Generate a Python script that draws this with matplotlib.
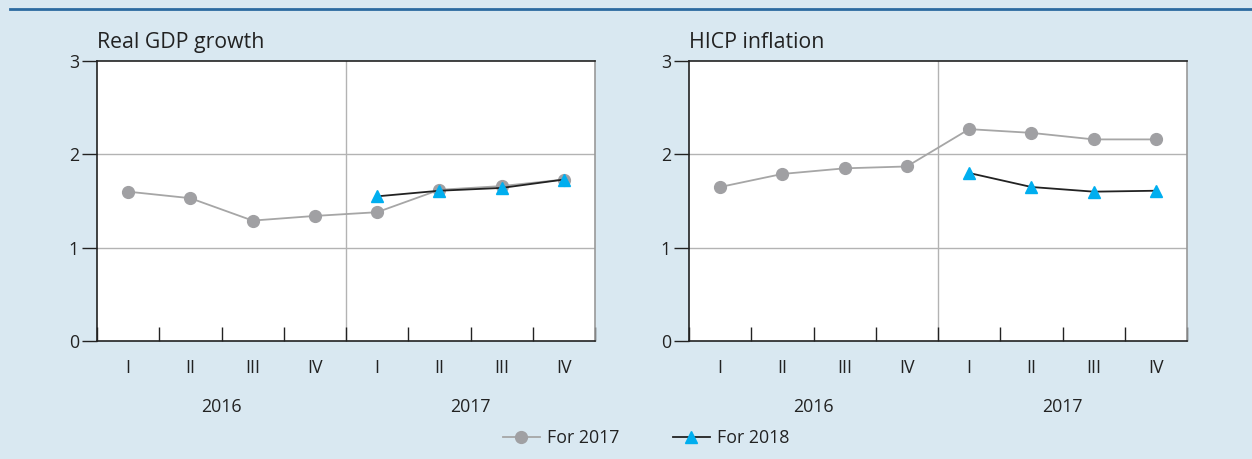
import numpy as np
import matplotlib.pyplot as plt
from matplotlib.lines import Line2D
import matplotlib.transforms as mtransforms

plt.rcParams['font.family'] = ['Open Sans', 'DejaVu Sans']

# =========================
# DATA
# =========================
quarters = ["I", "II", "III", "IV", "I", "II", "III", "IV"]
years = ["2016", "2017"]

gdp_2017 = [1.60, 1.53, 1.29, 1.34, 1.38, 1.62, 1.66, 1.73]
gdp_2018 = [np.nan, np.nan, np.nan, np.nan, 1.55, 1.61, 1.64, 1.73]

hicp_2017 = [1.65, 1.79, 1.85, 1.87, 2.27, 2.23, 2.16, 2.16]
hicp_2018 = [np.nan, np.nan, np.nan, np.nan, 1.80, 1.65, 1.60, 1.61]

titles = ["Real GDP growth", "HICP inflation"]

# =========================
# STYLE
# =========================
bg = "#d9e8f1"
grey_line = "#a6a6a6"
grey_mark = "#a0a0a3"
blue = "#00aeef"
dark = "#222222"
grid_c = "#b3b3b3"
fs = 12.8

fig = plt.figure(figsize=(12.52, 4.59), dpi=100, facecolor=bg)

# top rule
fig.add_artist(Line2D([10 / 1252, 1], [1 - 9 / 459, 1 - 9 / 459],
                      color="#2c6aa0", lw=2, transform=fig.transFigure))

x = np.arange(len(quarters))
lefts = [97 / 1252, 689 / 1252]
series = [(gdp_2017, gdp_2018), (hicp_2017, hicp_2018)]

for left, title, (s17, s18) in zip(lefts, titles, series):
    ax = fig.add_axes([left, 118 / 459, 498 / 1252, 280 / 459])
    ax.set_facecolor("white")
    ax.set_xlim(-0.5, 7.5)
    ax.set_ylim(0, 3)

    # grid
    for yv in [1, 2]:
        ax.axhline(yv, color=grid_c, lw=1, zorder=1)
    ax.axvline(3.5, color=grid_c, lw=1, zorder=1)

    ax.plot(x, s17, color=grey_line, lw=1.3, marker="o", ms=8.5,
            mfc=grey_mark, mec=grey_mark, zorder=3)
    ax.plot(x, s18, color=dark, lw=1.3, marker="^", ms=9,
            mfc=blue, mec=blue, zorder=4)

    # spines
    for side in ["left", "bottom", "top"]:
        ax.spines[side].set_color(dark)
        ax.spines[side].set_linewidth(1.2)
    ax.spines["right"].set_color("#999999")
    ax.spines["right"].set_linewidth(1.2)

    ax.set_yticks([0, 1, 2, 3])
    ax.tick_params(axis="y", direction="out", length=11, width=1,
                   color=dark, labelsize=fs, labelcolor=dark, pad=2)

    # quarter boundary ticks inside
    ax.set_xticks(np.arange(-0.5, 8, 1))
    ax.set_xticklabels([])
    ax.tick_params(axis="x", direction="in", length=10, width=1, color=dark)
    ax.set_xticks(x, minor=True)
    ax.set_xticklabels(quarters, minor=True)
    ax.tick_params(axis="x", which="minor", length=0, pad=13,
                   labelsize=fs, labelcolor=dark)

    trans = mtransforms.blended_transform_factory(ax.transData, ax.transAxes)
    for i, yr in enumerate(years):
        ax.text(1.5 + 4 * i, -0.235, yr, transform=trans, ha="center",
                va="center", fontsize=fs, color=dark)

    ax.text(0, 1.03, title, transform=ax.transAxes, ha="left",
            va="bottom", fontsize=15.3, color=dark)

# legend
handles = [
    Line2D([], [], color=grey_line, lw=1.3, marker="o", ms=8.5,
           mfc=grey_mark, mec=grey_mark),
    Line2D([], [], color=dark, lw=1.3, marker="^", ms=9,
           mfc=blue, mec=blue),
]
fig.legend(handles, ["For 2017", "For 2018"], loc="center",
           bbox_to_anchor=(646 / 1252, 1 - 438 / 459), ncol=2, frameon=False,
           fontsize=fs, handlelength=2.1, columnspacing=3.0,
           handletextpad=0.4, labelcolor=dark)

fig.savefig("out.png", dpi=100, facecolor=bg)
